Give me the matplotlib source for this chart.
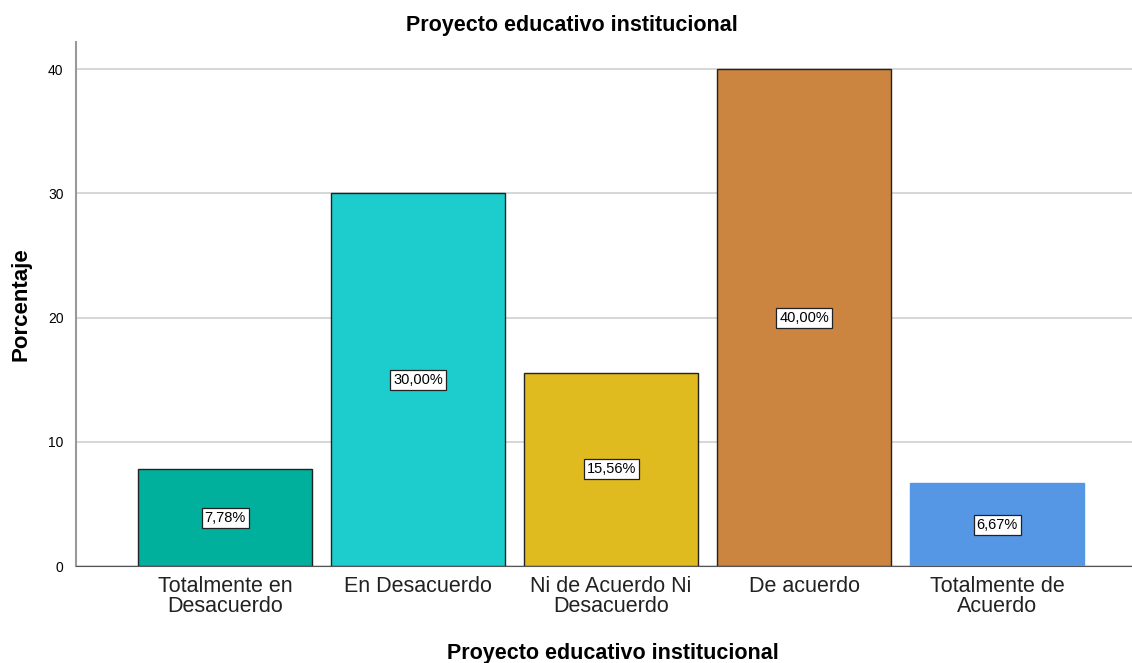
import matplotlib
matplotlib.use("Agg")
import matplotlib.pyplot as plt

plt.rcParams["font.family"] = ["Liberation Sans", "DejaVu Sans"]

categories = [
    "Totalmente en\nDesacuerdo",
    "En Desacuerdo",
    "Ni de Acuerdo Ni\nDesacuerdo",
    "De acuerdo",
    "Totalmente de\nAcuerdo",
]
percentages = [7.78, 30.00, 15.56, 40.00, 6.67]
bar_colors = ["#00B09C", "#1DCDCD", "#E0BB1F", "#CB8540", "#5596E5"]
edge_colors = ["#222222", "#222222", "#222222", "#222222", "#5596E5"]
yticks = [0, 10, 20, 30, 40]

fig = plt.figure(figsize=(11.32, 6.63), dpi=100)
ax = fig.add_axes([0.0671, 0.1463, 0.933, 0.7904])

x = range(len(categories))
ax.bar(x, percentages, width=0.9, color=bar_colors, edgecolor=edge_colors,
       linewidth=1.0, zorder=3)

for xi, val in zip(x, percentages):
    ax.text(xi, val / 2, f"{val:.2f}%".replace(".", ","), ha="center", va="center",
            fontsize=10.5, zorder=4,
            bbox=dict(boxstyle="square,pad=0.2", fc="white", ec="#222222", lw=0.9))

ax.set_xlim(-0.774, 4.7)
ax.set_ylim(0, 42.2)
ax.set_yticks(yticks)
ax.set_xticks(list(x))
ax.set_xticklabels(categories, fontsize=15.5, linespacing=0.95, color="#222222")
ax.tick_params(axis="y", labelsize=10, length=0, pad=9)
ax.tick_params(axis="x", length=0, pad=7)

ax.grid(axis="y", color="#d0d0d0", linewidth=1.2, zorder=0)
for side in ["top", "right"]:
    ax.spines[side].set_visible(False)
ax.spines["left"].set_color("#999999")
ax.spines["left"].set_linewidth(1.5)
ax.spines["bottom"].set_color("#555555")

ax.set_title("Proyecto educativo institucional", fontsize=15.5, fontweight="bold",
             x=0.47, pad=8)
ax.set_xlabel("Proyecto educativo institucional", fontsize=15.5, fontweight="bold",
              labelpad=19, x=0.508)
ax.set_ylabel("Porcentaje", fontsize=16, fontweight="bold", labelpad=12)

fig.savefig("out.png", dpi=100)
